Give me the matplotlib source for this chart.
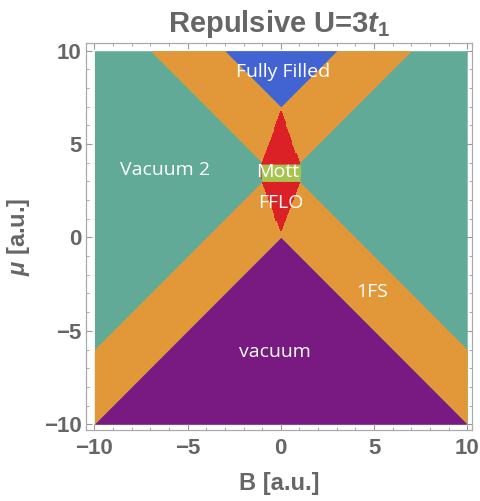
import numpy as np
import matplotlib
matplotlib.use("Agg")
import matplotlib.pyplot as plt
from matplotlib.ticker import MultipleLocator

plt.rcParams['mathtext.fontset'] = 'custom'
plt.rcParams['mathtext.rm'] = 'Liberation Sans:bold'
plt.rcParams['mathtext.it'] = 'Liberation Sans:italic:bold'
plt.rcParams['mathtext.bf'] = 'Liberation Sans:bold'

# ---- data: phase boundaries (mu = c +/- |B|) ----
B_range = [-10, 10]
mu_range = [-10, 10]
vacuum_edge = 0.0      # mu = vacuum_edge - |B|  (vacuum below)
band1_top = 4.0        # mu = band1_top - |B|    (lower 1FS band top)
band2_bottom = 3.0     # mu = band2_bottom + |B| (upper 1FS band bottom)
filled_edge = 7.0      # mu = filled_edge + |B|  (fully filled above)

# FFLO lens: half-width in B read at several mu
lens_mu = [0.27, 1.0, 2.0, 3.0, 3.5, 4.0, 4.7, 5.5, 6.2, 6.88]
lens_halfwidth = [0.0, 0.30, 0.66, 1.03, 1.07, 1.03, 0.75, 0.45, 0.24, 0.0]
mott_mu = [3.0, 3.93]

labels = ["Fully Filled", "Vacuum 2", "Mott", "FFLO", "1FS", "vacuum"]
label_B = [0.1, -6.2, -0.15, 0.0, 4.9, -0.3]
label_mu = [8.88, 3.6, 3.49, 1.83, -2.9, -6.13]

colors = {
    "teal": "#62AA98",
    "orange": "#E29838",
    "purple": "#781A82",
    "blue": "#4263D2",
    "red": "#DC2126",
    "green": "#A8C450",
}

fig = plt.figure(figsize=(4.80, 5.01), dpi=100)
ax = fig.add_axes([86/480, 1-430/501, (471.7-86)/480, (430-42.7)/501])

B = np.linspace(B_range[0], B_range[1], 2001)
aB = np.abs(B)
lo, hi = mu_range

# background: Vacuum 2
ax.fill_between(B, lo, hi, color=colors["teal"], lw=0)
# lower 1FS band
ax.fill_between(B, np.clip(vacuum_edge - aB, lo, hi), np.clip(band1_top - aB, lo, hi),
                color=colors["orange"], lw=0)
# vacuum
ax.fill_between(B, lo, np.clip(vacuum_edge - aB, lo, hi), color=colors["purple"], lw=0)
# upper 1FS band
ax.fill_between(B, np.clip(band2_bottom + aB, lo, hi), np.clip(filled_edge + aB, lo, hi),
                color=colors["orange"], lw=0)
# fully filled
ax.fill_between(B, np.clip(filled_edge + aB, lo, hi), hi, color=colors["blue"], lw=0)

# FFLO lens (jagged like a sampled region plot)
mu_s = np.arange(lens_mu[0], lens_mu[-1] + 1e-9, 0.14)
hw = np.interp(mu_s, lens_mu, lens_halfwidth)
ax.fill_betweenx(mu_s, -hw, hw, step='mid', color=colors["red"], lw=0)
# Mott band inside lens
mm = np.linspace(mott_mu[0], mott_mu[1], 50)
hwm = np.interp(mm, lens_mu, lens_halfwidth)
ax.fill_betweenx(mm, -hwm, hwm, color=colors["green"], lw=0)

for t, x, y in zip(labels, label_B, label_mu):
    ax.text(x, y, t, color="white", fontsize=14, family="Open Sans",
            ha="center", va="center")

ax.set_xlim(-10.45, 10.24)
ax.set_ylim(-10.31, 10.43)

gray = "#666666"
ax.xaxis.set_major_locator(MultipleLocator(5))
ax.yaxis.set_major_locator(MultipleLocator(5))
ax.xaxis.set_minor_locator(MultipleLocator(1))
ax.yaxis.set_minor_locator(MultipleLocator(1))
ax.tick_params(which='both', direction='in', top=True, right=True, color="#999999",
               labelcolor=gray, labelsize=16)
ax.tick_params(which='major', length=4.5, width=0.8)
ax.tick_params(which='minor', length=2.5, width=0.6)
ax.tick_params(axis='x', pad=6)
ax.tick_params(axis='y', pad=3)
for lab in ax.get_xticklabels() + ax.get_yticklabels():
    lab.set_fontfamily("Liberation Sans")
    lab.set_fontweight("bold")
for s in ax.spines.values():
    s.set_color("#AAAAAA")
    s.set_linewidth(0.9)

ax.set_xlabel("B [a.u.]", fontsize=17, color=gray, family="Liberation Sans",
              fontweight="bold", labelpad=9)
ax.set_ylabel(r"$\mu$ [a.u.]", fontsize=17, color=gray, family="Liberation Sans",
              fontweight="bold", labelpad=9)
ax.set_title(r"Repulsive U=3$t_1$", fontsize=21, color=gray, family="Liberation Sans",
             fontweight="bold", pad=8)

fig.savefig("out.png", dpi=100)
